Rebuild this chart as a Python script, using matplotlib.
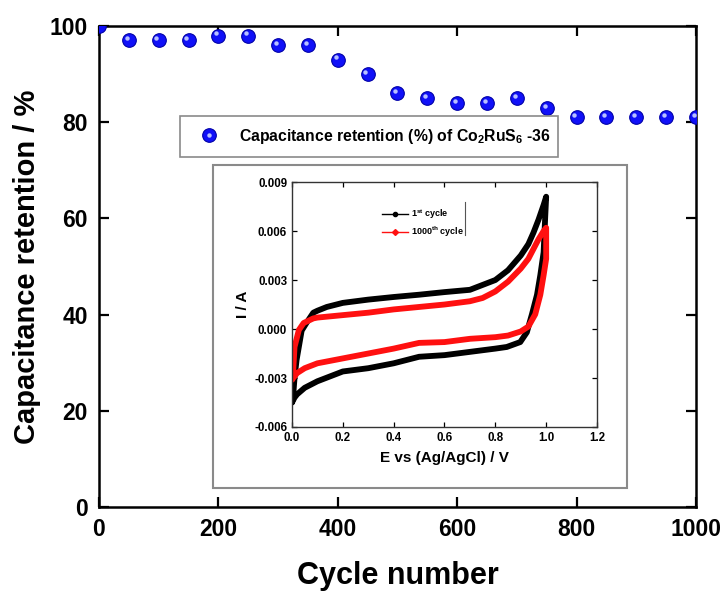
import matplotlib
matplotlib.use("Agg")
import matplotlib.pyplot as plt
from matplotlib.patches import Rectangle
from matplotlib.lines import Line2D
from matplotlib.legend_handler import HandlerTuple
import matplotlib.transforms as mtransforms

plt.rcParams['font.family'] = ['Liberation Sans', 'DejaVu Sans']
plt.rcParams['mathtext.fontset'] = 'custom'
plt.rcParams['mathtext.rm'] = 'Liberation Sans:bold'
plt.rcParams['mathtext.bf'] = 'Liberation Sans:bold'
plt.rcParams['mathtext.it'] = 'Liberation Sans:bold'

# ---- main data: capacitance retention ----
cycles = [0, 50, 100, 150, 200, 250, 300, 350, 400, 450, 500,
          550, 600, 650, 700, 750, 800, 850, 900, 950, 1000]
retention = [100, 97, 97, 97, 98, 98, 96, 96, 93, 90, 86,
             85, 84, 84, 85, 83, 81, 81, 81, 81, 81]

# ---- inset data: CV curves (forward then reverse sweep) ----
E_1st = [0.0, 0.005, 0.01, 0.018, 0.038, 0.058, 0.084, 0.1, 0.137, 0.2, 0.3, 0.4, 0.5,
         0.6, 0.7, 0.75, 0.8, 0.85, 0.9, 0.93, 0.95, 0.97, 0.99, 1.0,
         0.996, 0.99, 0.977, 0.964, 0.944, 0.924, 0.898, 0.845, 0.8, 0.7, 0.6,
         0.5, 0.45, 0.4, 0.3, 0.2, 0.1, 0.05, 0.02, 0.01, 0.0]
I_1st = [-0.0045, -0.0040, -0.0030, -0.0019, -0.0001, 0.0004, 0.0010, 0.00112, 0.00135, 0.00160,
         0.00180, 0.00196, 0.0021, 0.00226, 0.0024, 0.0027, 0.0030, 0.0036, 0.0045, 0.0052,
         0.0059, 0.0067, 0.0076, 0.0081,
         0.0068, 0.0047, 0.0033, 0.0021, 0.0009, -0.0002, -0.0008, -0.0011, -0.0012, -0.0014,
         -0.0016, -0.0017, -0.0019, -0.0021, -0.0024, -0.0026, -0.0032, -0.0036, -0.0040,
         -0.0042, -0.0045]

E_1000th = [0.0, 0.005, 0.01, 0.027, 0.046, 0.084, 0.1, 0.2, 0.3, 0.4, 0.5, 0.6, 0.7,
            0.75, 0.8, 0.85, 0.9, 0.93, 0.95, 0.97, 0.99, 1.0,
            1.0, 0.99, 0.977, 0.957, 0.93, 0.9, 0.85, 0.8, 0.7, 0.6, 0.5, 0.4, 0.3,
            0.2, 0.1, 0.05, 0.02, 0.01, 0.0]
I_1000th = [-0.0031, -0.0025, -0.0011, -0.00006, 0.00037, 0.00065, 0.0007, 0.00085, 0.0010,
            0.0012, 0.00135, 0.0015, 0.0017, 0.0019, 0.0023, 0.0029, 0.0037, 0.0043, 0.0049,
            0.0055, 0.0060, 0.0062,
            0.0043, 0.0033, 0.0021, 0.0009, 0.00015, -0.00015, -0.0004, -0.0005, -0.0006,
            -0.0008, -0.00085, -0.0012, -0.0015, -0.0018, -0.0021, -0.0024, -0.0027,
            -0.0029, -0.0031]

# ---- figure ----
fig = plt.figure(figsize=(7.24, 5.91), dpi=100)
ax = fig.add_axes([0.1367, 0.1421, 0.8246, 0.8139])

blue = ax.plot(cycles, retention, 'o', ms=9.8, color='#1010f8',
               mec='#0000a8', mew=0.8, zorder=3)[0]
off = mtransforms.ScaledTranslation(-1.6 / 72, 1.6 / 72, fig.dpi_scale_trans)
hl = ax.plot(cycles, retention, 'o', ms=3.2, color='#b8c0ff', mec='none',
             transform=ax.transData + off, zorder=4)[0]

ax.set_xlim(0, 1000)
ax.set_ylim(0, 100)
ax.set_xticks([0, 200, 400, 600, 800, 1000])
ax.set_yticks([0, 20, 40, 60, 80, 100])
ax.tick_params(direction='in', length=7, width=1.6, top=True, right=True,
               labelsize=16.5, pad=8)
for lab in ax.get_xticklabels() + ax.get_yticklabels():
    lab.set_fontweight('bold')
for s in ax.spines.values():
    s.set_linewidth(1.8)
ax.set_xlabel('Cycle number', fontsize=22, fontweight='bold', labelpad=14)
ax.set_ylabel('Capacitance retention / %', fontsize=21, fontweight='bold', labelpad=6)

leg_handle = Line2D([], [], ls='none', marker='o', ms=9.8, color='#1010f8',
                    mec='#0000a8', mew=0.8)
leg_hl = Line2D([], [], ls='none', marker='o', ms=3.2, color='#b8c0ff', mec='none')
leg = ax.legend([(leg_handle, leg_hl)], [r'Capacitance retention (%) of Co$_2$RuS$_6$ -36'],
                handler_map={tuple: HandlerTuple(ndivide=1)},
                loc='center left', bbox_to_anchor=(0.2486, 0.7377, 0.5221, 0.0643),
                bbox_transform=fig.transFigure, mode='expand', frameon=True,
                fancybox=False, edgecolor='#8a8a8a', framealpha=1,
                prop={'weight': 'bold', 'size': 11.3}, handlelength=2.3,
                handletextpad=0.77, borderpad=0.7, borderaxespad=0)
leg.get_frame().set_linewidth(1.2)

# inset frame
frame = Rectangle((0.2942, 0.1743), 0.5718, 0.5465, transform=fig.transFigure,
                  facecolor='white', edgecolor='#8a8a8a', lw=1.5, zorder=1)
fig.add_artist(frame)

axi = fig.add_axes([0.4033, 0.2775, 0.4213, 0.4145], zorder=2)
axi.plot(E_1st, I_1st, '-', color='black', lw=4.2, solid_capstyle='round',
         solid_joinstyle='round')
axi.plot(E_1000th, I_1000th, '-', color='#ff1010', lw=4.2, solid_capstyle='round',
         solid_joinstyle='round')
axi.set_xlim(0, 1.2)
axi.set_ylim(-0.006, 0.009)
axi.set_xticks([0.0, 0.2, 0.4, 0.6, 0.8, 1.0, 1.2])
axi.set_yticks([-0.006, -0.003, 0.0, 0.003, 0.006, 0.009])
axi.set_xticklabels(['0.0', '0.2', '0.4', '0.6', '0.8', '1.0', '1.2'])
axi.set_yticklabels(['-0.006', '-0.003', '0.000', '0.003', '0.006', '0.009'])
axi.tick_params(direction='in', length=3.5, width=0.9, top=True, right=True,
                labelsize=8.3, pad=3.5)
for lab in axi.get_xticklabels() + axi.get_yticklabels():
    lab.set_fontweight('bold')
for s in axi.spines.values():
    s.set_linewidth(1.0)
    s.set_color('#333333')
axi.set_xlabel('E vs (Ag/AgCl) / V', fontsize=11, fontweight='bold', labelpad=5)
axi.set_ylabel('I / A', fontsize=11, fontweight='bold', labelpad=3)

h1 = Line2D([], [], color='black', lw=1, marker='o', ms=3)
h2 = Line2D([], [], color='#ff1010', lw=1, marker='D', ms=3)
axi.legend([h1, h2], [r'1$^{st}$ cycle', r'1000$^{th}$ cycle'], loc='upper left',
           bbox_to_anchor=(0.27, 0.93), frameon=False,
           prop={'weight': 'bold', 'size': 6.5}, handlelength=2.8,
           handletextpad=0.4, labelspacing=0.45)
axi.plot([0.567, 0.567], [0.784, 0.918], color='#555555', lw=0.8,
         transform=axi.transAxes)

fig.savefig('out.png', dpi=100, facecolor='white')
